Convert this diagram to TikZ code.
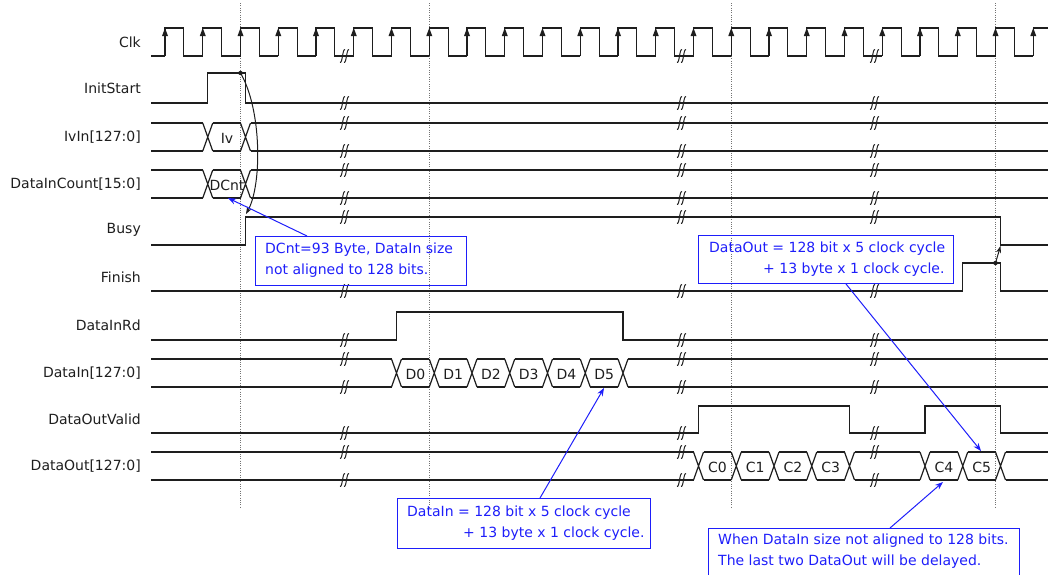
\documentclass[tikz,border=0pt]{standalone}
\usepackage{fontspec}
\setmainfont{DejaVu Sans}
\usetikzlibrary{arrows.meta}
\definecolor{noteblue}{RGB}{30,30,250}
\definecolor{ink}{RGB}{30,30,30}
\newcommand\busseg[4]{\draw[sig] ({#1+5},#3) -- ({#2-5},#3) ({#1+5},#4) -- ({#2-5},#4);}
\newcommand\busx[3]{\draw[sig] ({#1-5},#2) -- ({#1+5},#3) ({#1-5},#3) -- ({#1+5},#2);}
\begin{document}
\begin{tikzpicture}[x=1pt,y=-1pt,
  sig/.style={draw=ink,line width=1.2pt,line join=miter},
  gridline/.style={draw=black!55,line width=0.6pt,dash pattern=on 1pt off 1.3pt},
  lbl/.style={anchor=east,inner sep=0pt,text=ink,font=\fontsize{14}{16}\selectfont},
  buslbl/.style={inner sep=0pt,text=ink,font=\fontsize{14}{16}\selectfont},
  notebox/.style={draw=noteblue,line width=1pt,inner sep=0pt,anchor=north west},
  notetext/.style={text=noteblue,font=\fontsize{14}{21}\selectfont,inner sep=0pt,anchor=west,align=left},
  notearrow/.style={draw=noteblue,line width=1pt,-{Stealth[length=8pt,width=6pt]}},
  causal/.style={draw=ink,line width=1pt,-{Stealth[length=7pt,width=5pt]}},
  brkmark/.pic={\draw[draw=ink,line width=1pt]
     (-5,6.5) .. controls (-2.5,7.5) and (-2.5,-7.5) .. (0,-6.5)
     (-1,6.5) .. controls (1.5,7.5) and (1.5,-7.5) .. (4,-6.5);}
]
\useasboundingbox (0,0) rectangle (1048,574);

% dotted grid lines at selected clock edges
\foreach \gx in {240.5,429.25,731.25,995.5}
  \draw[gridline] (\gx,3) -- (\gx,508);

% labels
\node[lbl] (lclk)  at (141,42)  {Clk};
\node[lbl] (linit) at (141,88)  {InitStart};
\node[lbl] (liv)   at (141,137) {IvIn[127:0]};
\node[lbl] (ldc)   at (141,184) {DataInCount[15:0]};
\node[lbl] (lbusy) at (141,230) {Busy};
\node[lbl] (lfin)  at (141,277) {Finish};
\node[lbl] (lrd)   at (141,325) {DataInRd};
\node[lbl] (ldin)  at (141,373) {DataIn[127:0]};
\node[lbl] (ldov)  at (141,419) {DataOutValid};
\node[lbl] (ldout) at (141,466) {DataOut[127:0]};

% clock
\draw[sig] (151,56) -- (165,56);
\foreach \k in {0,...,22}{
  \pgfmathsetmacro\xr{165+37.75*\k}
  \pgfmathsetmacro\xf{\xr+18.875}
  \pgfmathsetmacro\xn{\xr+37.75}
  \draw[sig] (\xr,56) -- (\xr,28) -- (\xf,28) -- (\xf,56) -- (\xn,56);
  \fill[ink] (\xr,28) -- ({\xr-3},36) -- ({\xr+3},36) -- cycle;
}
\draw[sig] (1033.25,56) -- (1033.25,28) -- (1048,28);
\fill[ink] (1033.25,28) -- (1030.25,36) -- (1036.25,36) -- cycle;

% InitStart
\draw[sig] (151,103) -- (207.75,103) -- (207.75,73) -- (245.5,73) -- (245.5,103) -- (1048,103);
\fill[ink] (240.5,73) circle (2.2);

% IvIn
\busseg{146}{207.75}{123}{151}
\busx{207.75}{123}{151}
\busseg{207.75}{245.5}{123}{151}
\busx{245.5}{123}{151}
\busseg{245.5}{1053}{123}{151}
\node[buslbl] (iv) at (227,138) {Iv};

% DataInCount
\busseg{146}{207.75}{170}{198}
\busx{207.75}{170}{198}
\busseg{207.75}{245.5}{170}{198}
\busx{245.5}{170}{198}
\busseg{245.5}{1053}{170}{198}
\node[buslbl] (dcnt) at (227,185) {DCnt};

% Busy
\draw[sig] (151,245) -- (245.5,245) -- (245.5,217) -- (1000.5,217) -- (1000.5,245) -- (1048,245);
\coordinate (busyrise) at (246,214);
\coordinate (initdot) at (240.5,73);
\draw[causal] (initdot) .. controls (262,110) and (262,185) .. (busyrise);

% Finish
\draw[sig] (151,291) -- (962.75,291) -- (962.75,263) -- (1000.5,263) -- (1000.5,291) -- (1048,291);
\fill[ink] (995.5,263) circle (2.2);
\coordinate (findot) at (995.5,263);
\coordinate (busyfall) at (1000.5,246);
\draw[causal] (findot) -- (busyfall);

% DataInRd
\draw[sig] (151,340) -- (396.5,340) -- (396.5,312) -- (623,312) -- (623,340) -- (1048,340);

% DataIn bus
\busseg{146}{396.5}{359}{387}
\foreach \a/\b/\t in {396.5/434.25/D0,434.25/472/D1,472/509.75/D2,509.75/547.5/D3,547.5/585.25/D4,585.25/623/D5}{
  \busx{\a}{359}{387}
  \busseg{\a}{\b}{359}{387}
  \node[buslbl] (din\t) at ({(\a+\b)/2},374) {\t};
}
\busx{623}{359}{387}
\busseg{623}{1053}{359}{387}

% DataOutValid
\draw[sig] (151,433) -- (698.5,433) -- (698.5,406) -- (849.5,406) -- (849.5,433) -- (925,433) -- (925,406) -- (1000.5,406) -- (1000.5,433) -- (1048,433);

% DataOut bus
\busseg{146}{698.5}{452}{480}
\foreach \a/\b/\t in {698.5/736.25/C0,736.25/774/C1,774/811.75/C2,811.75/849.5/C3,925/962.75/C4,962.75/1000.5/C5}{
  \busx{\a}{452}{480}
  \busseg{\a}{\b}{452}{480}
  \node[buslbl] (dout\t) at ({(\a+\b)/2},467) {\t};
}
\busx{849.5}{452}{480}
\busseg{849.5}{925}{452}{480}
\busx{1000.5}{452}{480}
\busseg{1000.5}{1053}{452}{480}

% break marks
\foreach \bx in {345,682,875}
  \foreach \by in {56,103,123,151,170,198,217,291,340,359,387,433,452,480}
    \pic at (\bx,\by) {brkmark};

% callouts
\node[notebox,minimum width=211pt,minimum height=49pt] (n1) at (255,236) {};
\node[notetext] (n1t) at (265,260.5) {DCnt=93 Byte, DataIn size\\not aligned to 128 bits.};
\node[notebox,minimum width=255pt,minimum height=48pt] (n2) at (698,235) {};
\node[notetext] (n2t) at (709,259) {DataOut = 128 bit x 5 clock cycle\\\hspace*{54pt}+ 13 byte x 1 clock cycle.};
\node[notebox,minimum width=253pt,minimum height=50pt] (n3) at (397,498) {};
\node[notetext] (n3t) at (407,523.5) {DataIn = 128 bit x 5 clock cycle\\\hspace*{56pt}+ 13 byte x 1 clock cycle.};
\node[notebox,minimum width=311pt,minimum height=60pt] (n4) at (708,528) {};
\node[notetext] (n4t) at (718,551.5) {When DataIn size not aligned to 128 bits.\\The last two DataOut will be delayed.};

\coordinate (t1) at (228,198);
\coordinate (t2) at (981,451);
\coordinate (t3) at (604,388);
\coordinate (t4) at (943,482);
\draw[notearrow] ([xshift=52pt]n1.north west) -- (t1);
\draw[notearrow] ([xshift=148pt]n2.south west) -- (t2);
\draw[notearrow] ([xshift=143pt]n3.north west) -- (t3);
\draw[notearrow] ([xshift=182pt]n4.north west) -- (t4);
\end{tikzpicture}
\end{document}
